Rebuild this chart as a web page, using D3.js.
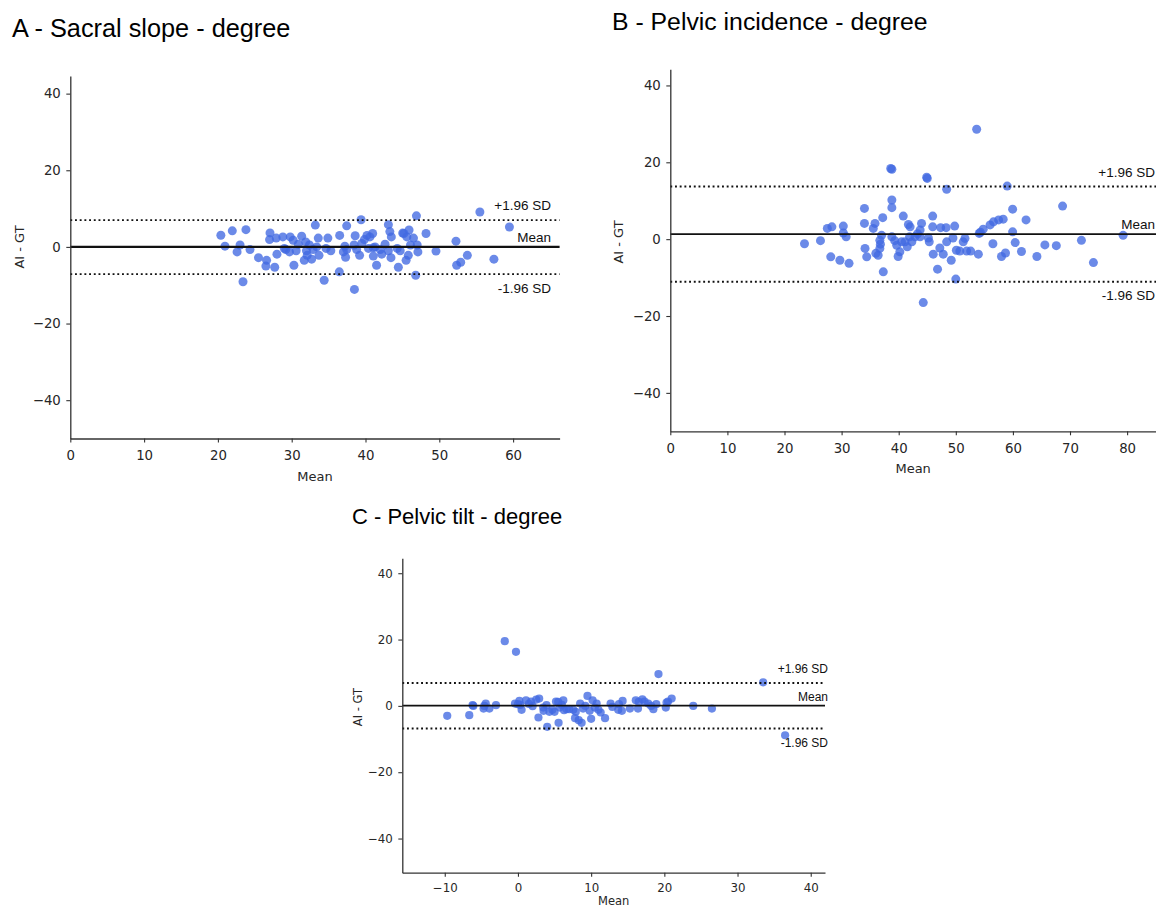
<!DOCTYPE html>
<html>
<head>
<meta charset="utf-8">
<script src="https://cdn.jsdelivr.net/npm/d3@7"></script>
<style>
  html, body { margin: 0; padding: 0; background: #fff; }
  svg { display: block; }
</style>
</head>
<body>
<svg id="chart" width="1156" height="909"></svg>
<script>
// ---------------- DATA ----------------
const panelTitles = ["A - Sacral slope - degree", "B - Pelvic incidence - degree", "C - Pelvic tilt - degree"];
const xAxisLabel = "Mean";
const yAxisLabel = "AI - GT";
const limitLabels = ["+1.96 SD", "Mean", "-1.96 SD"];

// [mean of AI & GT, AI - GT]
const sacralPoints = [[20.4,3.05],[20.96,0.2],[21.95,4.2],[22.6,-1.3],[23.0,0.5],[23.8,4.5],[23.4,-9.1],[24.35,-0.7],[25.5,-2.8],[26.6,-3.5],[26.5,-5.0],[27.06,3.65],[27.0,1.9],[27.7,-5.3],[27.9,2.3],[28.0,-1.9],[28.8,2.6],[29.2,-0.7],[29.8,2.6],[29.7,-1.3],[30.2,1.75],[30.3,-4.8],[30.6,-1.0],[31.35,2.8],[31.7,-3.5],[31.9,1.3],[32.1,-2.2],[32.4,0.5],[32.7,-3.2],[33.2,5.7],[32.9,-0.7],[33.4,0.0],[33.6,2.3],[33.7,-2.2],[34.4,-8.7],[34.9,2.3],[35.3,-1.0],[36.45,-6.5],[36.5,3.0],[37.2,0.2],[37.45,5.5],[37.3,-2.7],[37.45,-0.7],[38.6,2.9],[38.5,-11.1],[38.8,-0.7],[39.4,7.1],[39.2,-2.2],[39.5,0.9],[39.85,1.9],[40.2,3.0],[40.4,-0.4],[40.6,2.6],[40.97,3.5],[41.06,-2.4],[41.5,-4.8],[42.2,-1.9],[42.65,0.7],[43.1,5.8],[43.3,4.0],[43.5,2.6],[43.45,-2.8],[44.45,-5.3],[44.3,-0.4],[45.04,3.6],[45.2,3.5],[45.5,-3.5],[45.8,-2.2],[45.9,4.4],[46.1,0.5],[46.5,2.3],[46.8,-7.4],[46.9,8.1],[47.0,0.5],[47.1,-1.3],[48.2,3.5],[49.55,-1.1],[52.26,1.5],[52.35,-4.8],[52.9,-4.0],[53.8,-2.2],[55.5,9.1],[57.4,-3.2],[59.5,5.2],[29.0,-0.4],[30.9,0.7],[32.0,-1.0],[34.65,-0.4],[37.0,-1.3],[38.45,0.5],[41.3,0.0],[42.0,-0.7],[44.7,-1.0],[45.6,2.6],[41.06,-0.2],[43.1,-1.0]];
const incidencePoints = [[23.5,-1.2],[26.3,-0.4],[27.5,2.8],[28.3,3.2],[28.1,-4.6],[29.7,-5.5],[30.3,3.4],[30.3,1.6],[30.8,0.6],[31.3,-6.3],[34.0,8.0],[34.0,4.1],[34.1,-2.4],[34.4,-4.6],[35.55,2.8],[35.85,4.1],[36.0,-3.7],[36.4,-4.2],[36.7,-0.3],[36.8,-1.3],[37.2,5.6],[37.0,1.0],[37.3,-8.5],[36.7,-2.4],[38.6,18.4],[38.8,18.2],[38.8,10.2],[38.8,8.2],[38.8,0.6],[39.65,-1.6],[39.9,-4.5],[40.8,6.0],[40.5,-0.7],[40.2,-3.3],[41.1,-0.7],[41.7,3.8],[42.0,3.2],[41.9,0.6],[42.3,-0.7],[42.85,0.6],[43.3,1.4],[44.0,4.1],[44.3,-16.5],[43.75,2.4],[44.9,16.1],[45.0,15.8],[45.2,0.3],[45.35,-0.7],[45.95,6.0],[45.95,3.2],[46.05,-3.9],[46.8,-7.8],[47.2,-2.3],[47.35,3.0],[47.8,-3.9],[48.3,3.0],[48.4,13.0],[48.4,-0.7],[49.2,-5.5],[49.5,0.3],[49.8,3.4],[50.0,-10.4],[50.1,-2.9],[50.7,-3.1],[51.3,-0.7],[51.6,0.2],[51.9,-3.1],[52.6,-3.1],[53.65,28.6],[53.95,-3.9],[54.1,1.5],[54.3,1.8],[54.8,2.6],[56.0,3.7],[56.6,4.5],[56.5,-1.2],[57.5,5.0],[58.0,-4.5],[58.3,5.2],[58.7,-3.6],[59.0,13.8],[59.95,7.8],[59.95,1.9],[60.4,-0.9],[61.5,-3.2],[62.3,5.0],[64.2,-4.5],[65.6,-1.5],[67.6,-1.7],[68.7,8.6],[72.0,-0.3],[74.1,-6.1],[79.3,1.0],[39.3,-0.4],[41.5,-2.0],[43.75,0.6]];
const tiltPoints = [[-9.66,-3.0],[-6.65,-2.8],[-6.2,0.2],[-4.7,-0.8],[-4.4,0.7],[-3.9,-0.8],[-3.0,0.2],[-1.8,19.5],[-0.27,16.3],[-0.4,0.7],[0.2,1.5],[0.5,-1.2],[1.1,1.7],[1.8,1.3],[2.0,-0.1],[2.8,-3.5],[2.9,2.2],[3.45,-0.5],[4.0,-6.3],[3.9,0.2],[4.7,-1.2],[5.2,1.3],[5.55,-5.1],[5.7,-0.5],[6.2,1.7],[6.65,-1.0],[7.56,-1.2],[7.8,-3.7],[8.5,0.7],[8.7,-5.1],[8.9,-0.8],[9.5,3.0],[10.0,-3.9],[10.2,1.7],[10.75,0.7],[11.0,-1.2],[11.9,-3.7],[12.66,0.7],[13.7,-1.2],[14.3,1.5],[15.3,-0.8],[16.1,1.7],[16.4,-0.8],[17.0,2.0],[17.8,0.7],[18.5,-1.0],[18.9,0.5],[19.2,9.6],[20.2,-0.5],[20.5,1.3],[21.0,2.2],[23.95,0.0],[26.5,-0.8],[33.5,7.1],[36.5,-8.85],[0.0,0.5],[0.3,0.3],[1.5,0.6],[2.5,1.9],[3.5,-1.5],[4.3,-1.8],[5.0,-1.8],[5.5,1.2],[6.0,0.3],[6.3,-1.3],[7.0,-1.0],[7.9,-1.8],[8.3,-4.3],[9.2,0.0],[9.8,-1.5],[10.5,-0.5],[11.3,-2.0],[13.8,0.5],[14.2,-1.5],[16.5,1.2],[18.2,0.0],[20.3,1.0],[-6.1,0.0],[-4.6,0.0],[12.9,-0.3],[17.3,1.3]];

// [+1.96 SD, mean difference, -1.96 SD]
const sacralLimits = [7.0, 0.0, -7.1];
const incidenceLimits = [13.7, 1.3, -11.1];
const tiltLimits = [6.9, 0.1, -6.8];

const sacralXTicks = [0, 10, 20, 30, 40, 50, 60];
const incidenceXTicks = [0, 10, 20, 30, 40, 50, 60, 70, 80];
const tiltXTicks = [-10, 0, 10, 20, 30, 40];
const yTicks = [-40, -20, 0, 20, 40];

const sacralXDomain = [0, 66.3], sacralYDomain = [-50, 44.6];
const incidenceXDomain = [0, 86.46], incidenceYDomain = [-50, 44.2];
const tiltXDomain = [-15.8, 41.95], tiltYDomain = [-50.3, 44.5];

// ---------------- LAYOUT ----------------
const panels = [
  { title: panelTitles[0], points: sacralPoints, limits: sacralLimits, xTicks: sacralXTicks,
    xDomain: sacralXDomain, yDomain: sacralYDomain,
    box: { left: 70.3, right: 559.6, top: 76, bottom: 438.5 },
    titlePos: [12, 36.5], titleSize: 25.3, tickSize: 13.3, labelSize: 13,
    xLabelOffset: 42.5, yLabelX: 24, yLabelY: 247, tickPad: 8,
    annRight: 551, annSize: 13.5, meanW: 2.1, dotR: 4.5 },
  { title: panelTitles[1], points: incidencePoints, limits: incidenceLimits, xTicks: incidenceXTicks,
    xDomain: incidenceXDomain, yDomain: incidenceYDomain,
    box: { left: 670.3, right: 1164, top: 69.3, bottom: 431.3 },
    titlePos: [612, 30], titleSize: 24.8, tickSize: 13.3, labelSize: 13,
    xLabelOffset: 41.7, yLabelX: 623.3, yLabelY: 242, tickPad: 8,
    annRight: 1155, annSize: 13.5, meanW: 1.9, dotR: 4.5 },
  { title: panelTitles[2], points: tiltPoints, limits: tiltLimits, xTicks: tiltXTicks,
    xDomain: tiltXDomain, yDomain: tiltYDomain,
    box: { left: 402.3, right: 825, top: 558.3, bottom: 872.7 },
    titlePos: [352, 523.5], titleSize: 22, tickSize: 11.8, labelSize: 11.5,
    xLabelOffset: 32.5, yLabelX: 362, yLabelY: 707, tickPad: 7,
    annRight: 828, annSize: 12, meanW: 1.7, dotR: 4.1 }
];

const svg = d3.select("#chart");
const axisColor = "#333333";
const tickFont = "'DejaVu Sans', sans-serif";
const textFont = "'Liberation Sans', Arial, Helvetica, sans-serif";

panels.forEach(p => {
  const g = svg.append("g");
  const x = d3.scaleLinear().domain(p.xDomain).range([p.box.left, p.box.right]);
  const y = d3.scaleLinear().domain(p.yDomain).range([p.box.bottom, p.box.top]);

  // title
  g.append("text")
    .attr("x", p.titlePos[0]).attr("y", p.titlePos[1])
    .style("font-family", textFont).style("font-size", p.titleSize + "px")
    .attr("fill", "#000")
    .text(p.title);

  // points
  g.append("g").selectAll("circle").data(p.points).join("circle")
    .attr("cx", d => x(d[0])).attr("cy", d => y(d[1]))
    .attr("r", p.dotR)
    .attr("fill", "#4169e1").attr("fill-opacity", 0.78);

  // limit lines
  const [up, mean, low] = p.limits;
  g.append("line")
    .attr("x1", p.box.left).attr("x2", p.box.right)
    .attr("y1", y(mean)).attr("y2", y(mean))
    .attr("stroke", "#111").attr("stroke-width", p.meanW);
  [up, low].forEach(v => {
    g.append("line")
      .attr("x1", p.box.left).attr("x2", p.box.right)
      .attr("y1", y(v)).attr("y2", y(v))
      .attr("stroke", "#111").attr("stroke-width", 1.9)
      .attr("stroke-dasharray", "1.9,2.8");
  });

  // annotations
  const annY = [y(up) - 9.6, y(mean) - 4.8, y(low) + 18.6];
  limitLabels.forEach((t, i) => {
    g.append("text")
      .attr("x", p.annRight).attr("y", annY[i])
      .attr("text-anchor", "end")
      .style("font-family", textFont).style("font-size", p.annSize + "px")
      .attr("fill", "#111")
      .text(t);
  });

  // axes
  const xAxis = d3.axisBottom(x).tickValues(p.xTicks).tickSize(4).tickSizeOuter(0)
    .tickPadding(p.tickPad).tickFormat(d3.format("d"));
  const yAxis = d3.axisLeft(y).tickValues(yTicks).tickSize(4).tickSizeOuter(0)
    .tickPadding(5.5).tickFormat(d3.format("d"));

  const gx = g.append("g").attr("transform", `translate(0,${p.box.bottom})`).call(xAxis);
  const gy = g.append("g").attr("transform", `translate(${p.box.left},0)`).call(yAxis);
  [gx, gy].forEach(a => {
    a.select(".domain").attr("stroke", axisColor).attr("stroke-width", 1.3);
    a.selectAll(".tick line").attr("stroke", axisColor).attr("stroke-width", 1.1);
    a.selectAll(".tick text").attr("fill", "#262626")
      .style("font-family", tickFont).style("font-size", p.tickSize + "px");
  });

  // axis labels
  g.append("text")
    .attr("x", (p.box.left + p.box.right) / 2 - (p.box.right > 1156 ? 4 : 0))
    .attr("y", p.box.bottom + p.xLabelOffset)
    .attr("text-anchor", "middle")
    .style("font-family", tickFont).style("font-size", p.labelSize + "px")
    .attr("fill", "#262626")
    .text(xAxisLabel);

  g.append("text")
    .attr("transform", `translate(${p.yLabelX},${p.yLabelY}) rotate(-90)`)
    .attr("text-anchor", "middle")
    .style("font-family", tickFont).style("font-size", p.labelSize + "px")
    .attr("fill", "#262626")
    .text(yAxisLabel);
});
</script>
</body>
</html>
